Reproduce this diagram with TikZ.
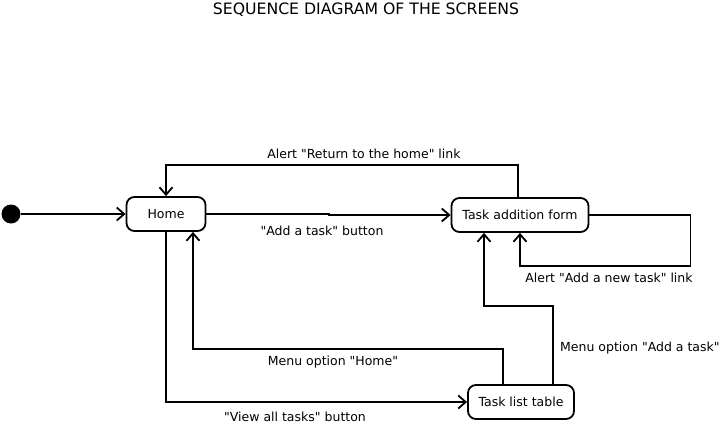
\documentclass[tikz,border=0pt]{standalone}
\usepackage{fontspec}
\setmainfont{DejaVu Sans}[Ligatures = TeXOff]
\usetikzlibrary{arrows.meta}
\tikzset{screen/.style = {draw, line width = 1.8pt, rounded corners = 8pt, minimum height = 34pt, inner sep = 0, font = \fontsize{12.5}{14}\selectfont}}
\tikzset{arr/.style = {line width = 1.8pt, -{Straight Barb[length = 7.5pt, width = 13pt]}}}
\tikzset{lbl/.style = {inner sep = 0, font = \fontsize{12.5}{14}\selectfont}}
\tikzset{start/.style = {fill, circle, inner sep = 0, minimum size = 19pt}}

\begin{document}
\begin{tikzpicture}[x = 1pt, y = -1pt]
    \useasboundingbox (0, 0) rectangle (726, 424);
    \node [lbl, font = \fontsize{15.7}{17}\selectfont] (title) at (366, 10) {SEQUENCE DIAGRAM OF THE SCREENS};

    \node [start] (init) at (11, 214) {};
    \node [screen, minimum width = 79pt] (home) at (166, 214) {Home};
    \node [screen, minimum width = 137pt] (form) at (520, 215) {Task addition form};
    \node [screen, minimum width = 106pt] (list) at (521, 402) {Task list table};

    \draw [arr] (init) -- (home.west);
    \draw [arr] (home.east) -- (329, 214) |- (form.west);
    \draw [arr] ([xshift = -2pt]form.north) -- ++(0, -32) -| (home.north);
    \draw [arr] (form.east) -- ++(101, 0) -- ++(0, 51) -| (form.south);
    \draw [arr] (home.south) |- (list.west);
    \draw [arr] ([xshift = -18pt]list.north) -- ++(0, -35) -| ([xshift = 27pt]home.south);
    \draw [arr] ([xshift = 32pt]list.north) -- ++(0, -78) -| ([xshift = -36pt]form.south);

    \node [lbl] (toHome) at (364, 154) {Alert "Return to the home" link};
    \node [lbl] (toForm) at (322, 231) {"Add a task" button};
    \node [lbl] (again) at (609, 278) {Alert "Add a new task" link};
    \node [lbl] (menuHome) at (333, 362) {Menu option "Home"};
    \node [lbl] (toList) at (295, 417) {"View all tasks" button};
    \node [lbl, anchor = west] (menuForm) at (560, 348) {Menu option "Add a task"};
  \end{tikzpicture}
\end{document}
